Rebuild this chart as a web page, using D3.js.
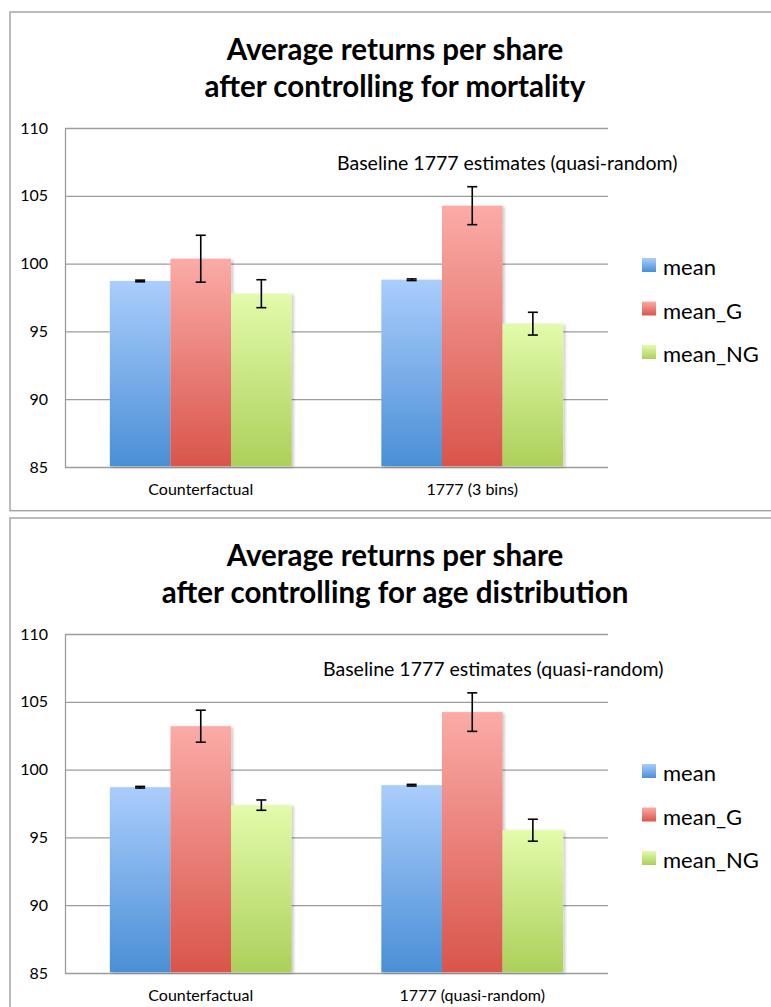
<!DOCTYPE html>
<html lang="en">
<head>
<meta charset="utf-8">
<title>Average returns per share</title>
<script src="https://cdn.jsdelivr.net/npm/d3@7"></script>
<style>
  body { margin: 0; background: #fff; }
  svg { display: block; font-family: Lato, "Liberation Sans", sans-serif; }
  .axis text { fill: #000; }
</style>
</head>
<body>
<script>
// shared
var seriesNames = ["mean", "mean_G", "mean_NG"];
var yTicks = [85, 90, 95, 100, 105, 110];
var noteText = "Baseline 1777 estimates (quasi-random)";

// chart 1: controlling for mortality
var mortalityTitle = ["Average returns per share", "after controlling for mortality"];
var mortalityCategories = ["Counterfactual", "1777 (3 bins)"];
var mortalityMean = [98.72, 98.81];
var mortalityMeanErr = [0.06, 0.06];
var mortalityMeanG = [100.36, 104.27];
var mortalityMeanGErr = [1.73, 1.40];
var mortalityMeanNG = [97.78, 95.57];
var mortalityMeanNGErr = [1.03, 0.84];

// chart 2: controlling for age distribution
var ageTitle = ["Average returns per share", "after controlling for age distribution"];
var ageCategories = ["Counterfactual", "1777 (quasi-random)"];
var ageMean = [98.70, 98.85];
var ageMeanErr = [0.06, 0.06];
var ageMeanG = [103.20, 104.24];
var ageMeanGErr = [1.18, 1.42];
var ageMeanNG = [97.38, 95.53];
var ageMeanNGErr = [0.38, 0.81];

var colors = {
    mean: ["#aacdfc", "#4a8fd6"],
    mean_G: ["#fbaba7", "#d9554b"],
    mean_NG: ["#e3fbab", "#acd05b"]
};

var W = 771, H = 1007;
var plotLeft = 65, plotTop = 116, plotW = 543, plotH = 339;

var svg = d3.select("body").append("svg")
    .attr("width", W)
    .attr("height", H);

var defs = svg.append("defs");
seriesNames.forEach(function(s, i) {
    var g = defs.append("linearGradient")
        .attr("id", "grad" + i)
        .attr("x1", 0).attr("y1", 0).attr("x2", 0).attr("y2", 1);
    g.append("stop").attr("offset", "0%").attr("stop-color", colors[s][0]);
    g.append("stop").attr("offset", "100%").attr("stop-color", colors[s][1]);
});
defs.append("filter")
    .attr("id", "shadow")
    .attr("x", "-10%").attr("y", "-10%").attr("width", "130%").attr("height", "120%")
    .append("feDropShadow")
    .attr("dx", 2).attr("dy", 1)
    .attr("stdDeviation", 1.5)
    .attr("flood-color", "#000")
    .attr("flood-opacity", 0.22);

function drawChart(offsetY, frameH, title, categories, vals, errs, noteX) {
    var chart = svg.append("g")
        .attr("transform", "translate(0," + offsetY + ")");

    chart.append("rect")
        .attr("x", 10).attr("y", 0)
        .attr("width", 820).attr("height", frameH)
        .attr("fill", "#fff")
        .attr("stroke", "#a6a6a6")
        .attr("stroke-width", 1.5);

    chart.append("text")
        .attr("x", 395)
        .attr("text-anchor", "middle")
        .attr("font-weight", "bold")
        .attr("font-size", 29.5)
        .selectAll("tspan")
        .data(title)
        .enter().append("tspan")
        .attr("x", 395)
        .attr("y", function(d, i) { return 48 + i * 37; })
        .text(function(d) { return d; });

    var plot = chart.append("g")
        .attr("transform", "translate(" + plotLeft + "," + plotTop + ")");

    var y = d3.scaleLinear().domain([85, 110]).range([plotH, 0]);
    var x0 = d3.scaleBand().domain(categories).range([0, plotW]);
    var x1 = d3.scaleBand().domain(seriesNames)
        .range([0, x0.bandwidth()])
        .paddingOuter(0.74);

    var yAxis = d3.axisLeft(y)
        .tickValues(yTicks)
        .tickSize(-plotW)
        .tickSizeOuter(0)
        .tickPadding(17);

    var yg = plot.append("g")
        .attr("class", "axis")
        .call(yAxis);
    yg.selectAll(".tick line").attr("stroke", "#9c9c9c").attr("stroke-width", 1.3);
    yg.select(".domain").attr("stroke", "#9c9c9c").attr("stroke-width", 1.3);
    yg.selectAll("text").attr("font-size", 16).attr("font-family", "Lato");

    var xg = plot.append("g")
        .attr("class", "axis")
        .attr("transform", "translate(0," + plotH + ")")
        .call(d3.axisBottom(x0).tickSize(0).tickPadding(17));
    xg.select(".domain").remove();
    xg.selectAll("text").attr("font-size", 16).attr("font-family", "Lato");

    plot.append("text")
        .attr("x", noteX - plotLeft)
        .attr("y", 42)
        .attr("font-size", 19.5)
        .text(noteText);

    var rows = categories.map(function(c, i) {
        return seriesNames.map(function(s, j) {
            return { cat: c, key: s, idx: j, value: vals[j][i], err: errs[j][i] };
        });
    });

    var groups = plot.selectAll("g.group")
        .data(rows)
        .enter().append("g")
        .attr("class", "group")
        .attr("transform", function(d) { return "translate(" + x0(d[0].cat) + ",0)"; });

    groups.selectAll("rect")
        .data(function(d) { return d; })
        .enter().append("rect")
        .attr("x", function(d) { return x1(d.key); })
        .attr("y", function(d) { return y(d.value); })
        .attr("width", x1.bandwidth())
        .attr("height", function(d) { return plotH - y(d.value) - 0.7; })
        .attr("fill", function(d) { return "url(#grad" + d.idx + ")"; })
        .attr("filter", "url(#shadow)");

    // error bars
    var eb = groups.selectAll("g.err")
        .data(function(d) { return d; })
        .enter().append("g")
        .attr("class", "err")
        .attr("stroke", "#000")
        .attr("stroke-width", 1.6);
    eb.append("line")
        .attr("x1", function(d) { return x1(d.key) + x1.bandwidth() / 2; })
        .attr("x2", function(d) { return x1(d.key) + x1.bandwidth() / 2; })
        .attr("y1", function(d) { return y(d.value + d.err); })
        .attr("y2", function(d) { return y(d.value - d.err); });
    [1, -1].forEach(function(sign) {
        eb.append("line")
            .attr("x1", function(d) { return x1(d.key) + x1.bandwidth() / 2 - 5; })
            .attr("x2", function(d) { return x1(d.key) + x1.bandwidth() / 2 + 5; })
            .attr("y1", function(d) { return y(d.value + sign * d.err); })
            .attr("y2", function(d) { return y(d.value + sign * d.err); });
    });

    var legend = chart.append("g")
        .selectAll("g")
        .data(seriesNames)
        .enter().append("g")
        .attr("transform", function(d, i) { return "translate(642," + (246 + i * 43.5) + ")"; });
    legend.append("rect")
        .attr("width", 14).attr("height", 14)
        .attr("fill", function(d, i) { return "url(#grad" + i + ")"; });
    legend.append("text")
        .attr("x", 21)
        .attr("y", 17)
        .attr("font-size", 22)
        .text(function(d) { return d; });
}

drawChart(12, 498.7, mortalityTitle, mortalityCategories,
    [mortalityMean, mortalityMeanG, mortalityMeanNG],
    [mortalityMeanErr, mortalityMeanGErr, mortalityMeanNGErr], 337);

drawChart(518, 520, ageTitle, ageCategories,
    [ageMean, ageMeanG, ageMeanNG],
    [ageMeanErr, ageMeanGErr, ageMeanNGErr], 323);
</script>
</body>
</html>
